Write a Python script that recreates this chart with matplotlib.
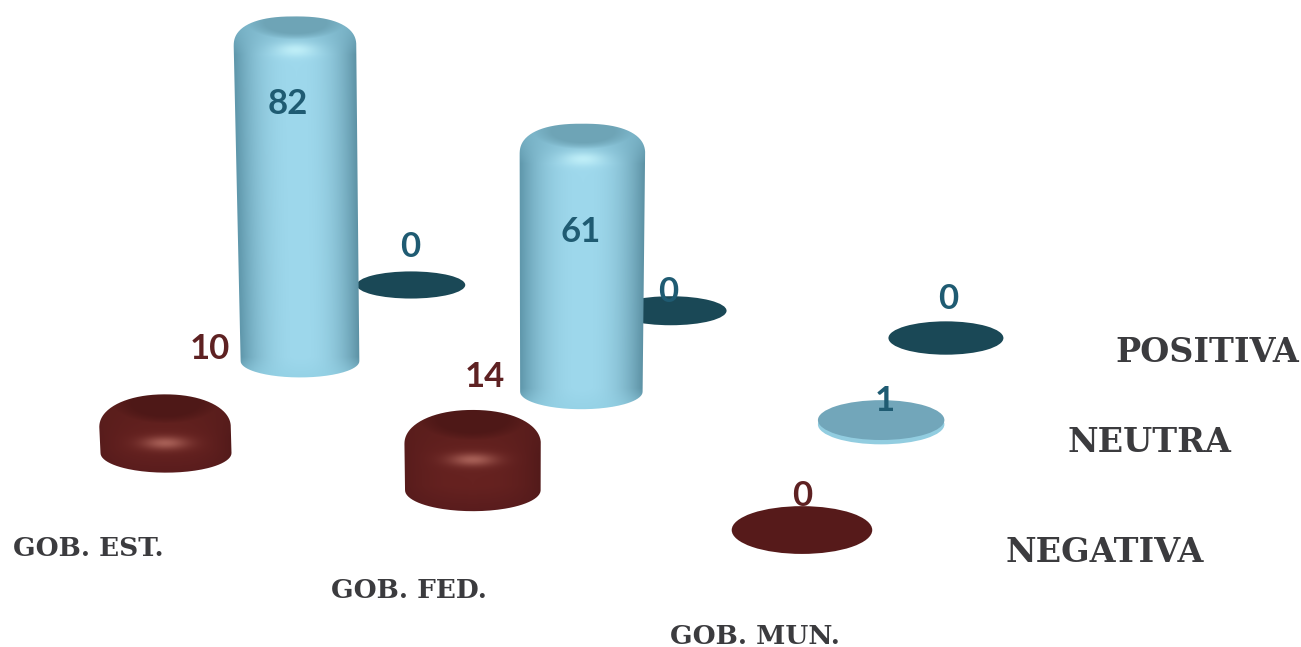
import numpy as np
import matplotlib
matplotlib.use("Agg")
import matplotlib.pyplot as plt
from matplotlib.patches import Ellipse, PathPatch
from matplotlib.path import Path

categories = ["GOB. EST.", "GOB. FED.", "GOB. MUN."]
series = ["NEGATIVA", "NEUTRA", "POSITIVA"]
negativa = [10, 14, 0]
neutra = [82, 61, 1]
positiva = [0, 0, 0]
values = [negativa, neutra, positiva]

W, H = 1301, 647

# colours per series: edge, centre, bottom, cap, top, highlight, flat disc
blue = dict(edge=(96, 152, 172), centre=(158, 216, 236), bottom=(146, 208, 228),
            cap=(124, 182, 202), top=(110, 164, 182), high=(196, 242, 250),
            flat=(114, 166, 186), rim=(146, 205, 224), hl=0.58, hs=7.0, n=2.4)
maroon = dict(edge=(88, 28, 28), centre=(102, 34, 32), bottom=(84, 26, 28),
              cap=(90, 30, 28), top=(78, 24, 23), high=(176, 104, 94),
              flat=(86, 26, 26), rim=(86, 26, 26), hl=0.74, hs=6.5, n=2.1)
teal = dict(flat=(26, 72, 86))
styles = [maroon, blue, teal]
text_cols = ["#5e2122", "#1f5b72", "#1f5b72"]

# label offset from the mark (x, y in pixels): from top of bar, or from the disc
label_off = [[(44, -45), (12, -33), (0, -34)],
             [(-12, 88), (-1, 108), (4, -23)],
             [(-1, -38), (-3, -19), (2, -39)]]

# ground plane: where category/series corners land on the picture
H_G, H_H = -0.0678, 0.2071
H_X = (581.6, 330.1, 166.0)
H_Y = (41.1, -109.0, 453.0)
K = 4.5


def project(i, j):
    u, v = i / 2, j / 2
    w = 1 + H_G * u + H_H * v
    return ((H_X[0] * u + H_X[1] * v + H_X[2]) / w,
            (H_Y[0] * u + H_Y[1] * v + H_Y[2]) / w, w)


def mix(a, b, t):
    return a + (b - a) * t[..., None]


def c(rgb):
    return np.array(rgb, dtype=float) / 255


def bar(ax, cx, gy, rx, ry, h, st):
    cxt = cx + (cx - 520) * h * 6.9e-5
    rxt = rx * (1 + h * 1e-4)
    bevel = 0.5 * rx
    top = gy - h - ry
    sh = top + bevel

    t1 = np.linspace(np.pi, 0, 80)
    t2 = np.linspace(0, np.pi, 120)
    n = st["n"]
    xs = np.r_[cx + rx * np.cos(t1),
               cxt + rxt * np.sign(np.cos(t2)) * np.abs(np.cos(t2)) ** (2 / n)]
    ys = np.r_[gy + ry * np.sin(t1),
               sh - bevel * np.abs(np.sin(t2)) ** (2 / n)]
    patch = PathPatch(Path(np.c_[xs, ys]), fc="none", ec="none", zorder=2)
    ax.add_patch(patch)

    x0, x1 = xs.min() - 2, xs.max() + 2
    y0, y1 = ys.min() - 2, ys.max() + 2
    X, Y = np.meshgrid(np.arange(x0, x1, 1.0), np.arange(y0, y1, 1.0))
    f = np.clip((gy - Y) / h, 0, 1)
    cr, rr = cx + (cxt - cx) * f, rx + (rxt - rx) * f
    u = np.clip((X - cr) / rr, -1, 1)

    img = mix(c(st["edge"]), c(st["centre"]), 1 - np.abs(u) ** 2.4)
    img = img * (1 - 0.06 * np.clip(u, 0, 1) ** 3)[..., None]
    low = np.clip((Y - (gy - 0.2 * ry)) / (1.2 * ry), 0, 1)
    img = mix(img, c(st["bottom"]), low * 0.7)
    v = np.clip((sh + 0.3 * bevel - Y) / (1.2 * bevel), 0, 1)
    img = mix(img, c(st["cap"]), v ** 0.8 * 0.95)
    e = ((X - cxt) / (0.7 * rxt)) ** 2 + ((Y - (top + 0.45 * ry)) / (0.9 * ry)) ** 2
    img = mix(img, c(st["top"]), np.clip((1.3 - e) / 0.8, 0, 1))
    hy = top + st["hl"] * rx
    g = np.exp(-((X - cxt) / (0.34 * rx)) ** 2 - ((Y - hy) / st["hs"]) ** 2)
    img = mix(img, c(st["high"]), g * 0.85)

    im = ax.imshow(np.clip(img, 0, 1), extent=(x0, x1, y1, y0), aspect="auto",
                   interpolation="bilinear", zorder=2)
    im.set_clip_path(patch)
    return top


def disc(ax, cx, gy, rx, ry, h, st):
    if h > 0:
        ax.add_patch(Ellipse((cx, gy), 2 * rx, 2 * ry, fc=np.array(st["rim"]) / 255,
                             ec="none", zorder=2))
    ax.add_patch(Ellipse((cx, gy - h), 2 * rx, 2 * ry, fc=np.array(st["flat"]) / 255,
                         ec="none", zorder=2))


fig = plt.figure(figsize=(W / 100, H / 100), dpi=100)
ax = fig.add_axes([0, 0, 1, 1])

anchors = []
for j in (2, 1, 0):
    for i in range(len(categories)):
        val = values[j][i]
        cx, gy, w = project(i, j)
        rx = 65.5 / w
        ry = rx * (0.30 + 0.01 * i * i - 0.025 * j)
        h = val * K / w
        if val >= 5:
            top = bar(ax, cx, gy, rx, ry, h - 6, styles[j])
            ay = top
        else:
            disc(ax, cx, gy, rx, ry, h, styles[j])
            ay = gy
        dx, dy = label_off[j][i]
        anchors.append((cx + dx, ay + dy, str(val), text_cols[j]))

for x, y, s, col in anchors:
    ax.text(x, y, s, ha="center", va="center", fontsize=25, fontweight="bold",
            family="Lato", color=col, zorder=5)

slab = dict(family="DejaVu Serif", fontweight="bold", color="#3b3b3e",
            ha="center", va="center")
for name, x, y in zip(categories, (88, 409, 755), (549, 591, 637)):
    ax.text(x, y, name, fontsize=19, **slab)
for name, x, y in zip(series, (1105, 1149, 1207), (552, 442, 352)):
    ax.text(x, y, name, fontsize=24, **slab)

ax.set_xlim(0, W)
ax.set_ylim(H, 0)
ax.axis("off")
fig.savefig("out.png", dpi=100, facecolor="white")
